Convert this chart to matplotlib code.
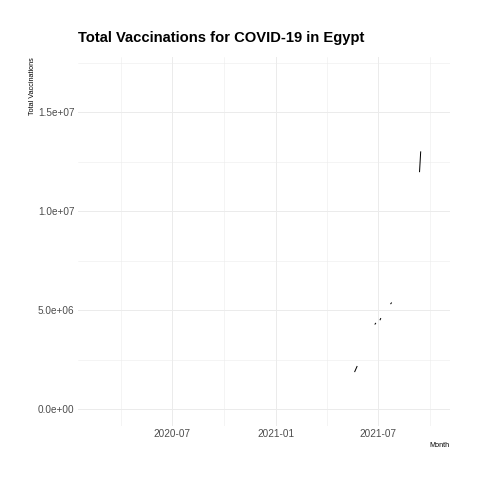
import numpy as np
import pandas as pd
import matplotlib
matplotlib.use("Agg")
import matplotlib.pyplot as plt
import matplotlib.dates as mdates
from matplotlib.ticker import FixedLocator, FuncFormatter

plt.rcParams['font.family'] = ['Liberation Sans Narrow', 'Liberation Sans', 'DejaVu Sans']

# data range of the series (most days have no vaccination figure)
first_day = "2020-02-14"
last_day = "2021-10-07"

# days that do have a total vaccinations figure
obs_dates = ["2021-01-24",
             "2021-05-21", "2021-05-22", "2021-05-23", "2021-05-24", "2021-05-25",
             "2021-06-26", "2021-06-27",
             "2021-07-05", "2021-07-06",
             "2021-07-24", "2021-07-25",
             "2021-09-13", "2021-09-14", "2021-09-15",
             "2021-10-01"]
obs_values = [0,
              1.90e6, 1.96e6, 2.03e6, 2.10e6, 2.16e6,
              4.30e6, 4.34e6,
              4.52e6, 4.58e6,
              5.33e6, 5.37e6,
              12.0e6, 12.5e6, 13.0e6,
              16.93e6]

days = pd.date_range(first_day, last_day, freq="D")
series = pd.Series(obs_values, index=pd.to_datetime(obs_dates)).reindex(days)

fig = plt.figure(figsize=(480 / 72, 480 / 72), dpi=72)
ax = fig.add_axes([77.5 / 480, 1 - 426 / 480, (450 - 77.5) / 480, (426 - 57.3) / 480])

ax.plot(series.index, series.values, color="black", lw=1.0)

# ggplot style 5% expansion
x0 = mdates.date2num(days[0]); x1 = mdates.date2num(days[-1])
ax.set_xlim(x0 - 0.05 * (x1 - x0), x1 + 0.05 * (x1 - x0))
ymin = np.nanmin(series.values); ymax = np.nanmax(series.values)
ax.set_ylim(ymin - 0.05 * (ymax - ymin), ymax + 0.05 * (ymax - ymin))

major_x = mdates.date2num(pd.to_datetime(["2020-07-01", "2021-01-01", "2021-07-01"]))
minor_x = mdates.date2num(pd.to_datetime(["2020-04-01", "2020-10-01", "2021-04-01", "2021-10-01"]))
ax.xaxis.set_major_locator(FixedLocator(major_x))
ax.xaxis.set_minor_locator(FixedLocator(minor_x))
ax.xaxis.set_major_formatter(mdates.DateFormatter("%Y-%m"))

ax.yaxis.set_major_locator(FixedLocator([0, 5e6, 1e7, 1.5e7]))
ax.yaxis.set_minor_locator(FixedLocator([2.5e6, 7.5e6, 1.25e7, 1.75e7]))
ax.yaxis.set_major_formatter(FuncFormatter(lambda v, p: "%.1e" % v))

ax.grid(which="major", color="#EBEBEB", lw=1.0)
ax.grid(which="minor", color="#EBEBEB", lw=0.5)
ax.set_axisbelow(True)
for s in ax.spines.values():
    s.set_visible(False)
ax.tick_params(which="both", length=0, labelsize=10, labelcolor="#4D4D4D", pad=3)

ax.set_xlabel("Month", fontsize=7.3, loc="right", labelpad=3)
ax.set_ylabel("Total Vaccinations", fontsize=7.3, loc="top", labelpad=2)
ax.set_title("Total Vaccinations for COVID-19 in Egypt", fontsize=14.7, fontweight="bold",
             loc="left", pad=15)

fig.savefig("out.png", dpi=72)
